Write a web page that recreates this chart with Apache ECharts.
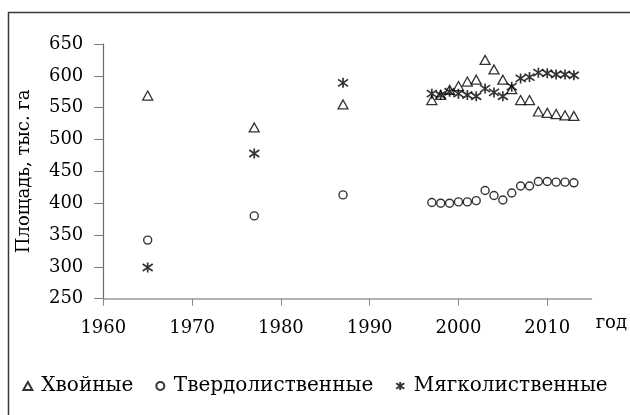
<!DOCTYPE html>
<html>
<head>
<meta charset="utf-8">
<script src="https://cdn.jsdelivr.net/npm/echarts@6/dist/echarts.min.js"></script>
<style>
html,body{margin:0;padding:0;background:#fff;}
#c{width:630px;height:415px;}
</style>
</head>
<body>
<div id="c"></div>
<script>
var years = [1965, 1977, 1987, 1997, 1998, 1999, 2000, 2001, 2002, 2003, 2004, 2005, 2006, 2007, 2008, 2009, 2010, 2011, 2012, 2013];
var coniferous = [569, 519, 555, 562, 570, 578, 584, 591, 594, 625, 610, 594, 579, 562, 562, 544, 542, 540, 538, 537];
var hardwood   = [342, 380, 413, 401, 400, 400, 402, 402, 404, 420, 412, 405, 416, 427, 427, 434, 434, 433, 433, 432];
var softwood   = [299, 478, 589, 572, 570, 575, 572, 570, 568, 580, 574, 568, 583, 596, 598, 605, 604, 602, 602, 601];
var xTicks = [1960, 1970, 1980, 1990, 2000, 2010];
var seriesNames = ['Хвойные', 'Твердолиственные', 'Мягколиственные'];
var xName = 'год';
var yName = 'Площадь, тыс. га';

function pairs(vals) {
  return years.map(function (y, i) { return [y, vals[i]]; });
}

var FONT = "'DejaVu Serif', serif";
var FS = 18;
var starPath = 'path://M5,0L5,10M0,1.5L10,8.5M0,8.5L10,1.5';

var chart = echarts.init(document.getElementById('c'), null, {renderer: 'canvas'});
chart.setOption({
  animation: false,
  backgroundColor: '#fff',
  textStyle: {fontFamily: FONT, color: '#000'},
  graphic: [{
    type: 'rect',
    shape: {x: 8.5, y: 12.5, width: 700, height: 500},
    style: {fill: 'none', stroke: '#3a3a3a', lineWidth: 1.5},
    silent: true
  }],
  grid: {left: 103.3, right: 37, top: 44, bottom: 116.3, containLabel: false},
  legend: {
    left: 'center',
    top: 371,
    itemWidth: 9,
    itemHeight: 8,
    itemGap: 22,
    textStyle: {fontFamily: FONT, fontSize: 20, color: '#000', padding: [0, 0, 0, 4]},
    data: seriesNames
  },
  xAxis: {
    type: 'value',
    min: 1960,
    max: 2015,
    interval: 10,
    name: xName,
    nameLocation: 'end',
    nameGap: 4,
    nameTextStyle: {fontFamily: FONT, fontSize: FS, color: '#000', align: 'left', verticalAlign: 'top', lineHeight: 50},
    axisLine: {show: true, onZero: false, lineStyle: {color: '#9a9a9a', width: 1.5}},
    axisTick: {show: true, inside: false, length: 7, lineStyle: {color: '#8a8a8a', width: 1}, customValues: xTicks},
    axisLabel: {fontFamily: FONT, fontSize: FS, color: '#000', margin: 21, customValues: xTicks,
      formatter: function (v) { return String(v); }},
    splitLine: {show: false}
  },
  yAxis: {
    type: 'value',
    min: 250,
    max: 650,
    interval: 50,
    name: yName,
    nameLocation: 'middle',
    nameGap: 70,
    nameTextStyle: {fontFamily: FONT, fontSize: FS, color: '#000'},
    axisLine: {show: true, lineStyle: {color: '#6a6a6a', width: 1.2}},
    axisTick: {show: true, inside: false, length: 9, lineStyle: {color: '#7a7a7a', width: 1}},
    axisLabel: {fontFamily: FONT, fontSize: FS, color: '#000', margin: 20},
    splitLine: {show: false}
  },
  series: [
    {
      name: seriesNames[0], type: 'scatter', data: pairs(coniferous),
      symbol: 'triangle', symbolSize: [10, 9],
      itemStyle: {color: '#fff', borderColor: '#000', borderWidth: 1.3}
    },
    {
      name: seriesNames[1], type: 'scatter', data: pairs(hardwood),
      symbol: 'circle', symbolSize: 8,
      itemStyle: {color: '#fff', borderColor: '#000', borderWidth: 1.4}
    },
    {
      name: seriesNames[2], type: 'scatter', data: pairs(softwood),
      symbol: starPath, symbolSize: 10,
      itemStyle: {color: '#000', borderColor: '#000', borderWidth: 1.7}
    }
  ]
});
</script>
</body>
</html>
